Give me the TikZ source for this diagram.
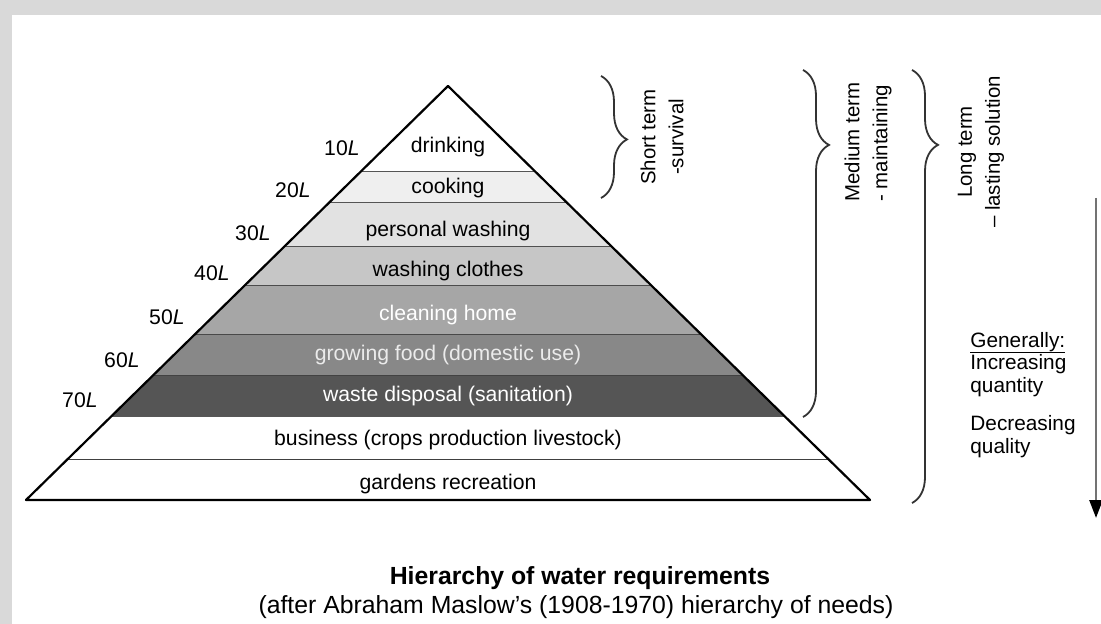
\documentclass[tikz,border=0pt]{standalone}
\usepackage{fontspec}
\setmainfont{Liberation Sans}
\usetikzlibrary{positioning, calc, arrows.meta, decorations.pathreplacing}

\definecolor{page}{HTML}{D9D9D9}
\definecolor{lev1}{HTML}{EFEFEF}
\definecolor{lev2}{HTML}{E2E2E2}
\definecolor{lev3}{HTML}{C6C6C6}
\definecolor{lev4}{HTML}{A6A6A6}
\definecolor{lev5}{HTML}{888888}
\definecolor{lev6}{HTML}{555555}

\begin{document}
\begin{tikzpicture}[x=0.5pt, y=-0.5pt,
    lvl/.style={font=\fontsize{10.6}{12}\selectfont, inner sep=1pt},
    amt/.style={font=\fontsize{10.6}{12}\selectfont, anchor=east, inner sep=1pt},
    sep line/.style={draw=black!75, line width=1pt},
    term/.style={rotate=90, font=\fontsize{10.2}{14}\selectfont, inner sep=0pt},
    curly/.style={decorate, decoration={brace, amplitude=13pt, aspect=#1}, line width=0.9pt, draw=black!80}
  ]

  % frame of the scan
  \fill[page] (0,0) rectangle (1101,624);
  \fill[white] (12,15) rectangle (1101,624);
  \useasboundingbox (0,0) rectangle (1101,624);

  \coordinate (apex) at (448,86);
  \coordinate (bl) at (26,500);
  \coordinate (br) at (870,500);

  \foreach \ya/\yb/\shade/\ty/\txt/\tc [count=\i] in {
      86/172/white/147/drinking/black,
      172/203/lev1/188/cooking/black,
      203/247/lev2/231/personal washing/black,
      247/286/lev3/271/washing clothes/black,
      286/335/lev4/315/cleaning home/white,
      335/376/lev5/355/growing food (domestic use)/white!92!black,
      376/417/lev6/396/waste disposal (sanitation)/white,
      417/460/white/440/business (crops production livestock)/black,
      460/500/white/484/gardens recreation/black} {
    \pgfmathsetmacro\ta{(\ya-86)/414}
    \pgfmathsetmacro\tb{(\yb-86)/414}
    \fill[\shade] ($(apex)!\ta!(bl)$) -- ($(apex)!\tb!(bl)$) -- ($(apex)!\tb!(br)$) -- ($(apex)!\ta!(br)$) -- cycle;
    \draw[sep line] ($(apex)!\tb!(bl)$) -- ($(apex)!\tb!(br)$);
    \node[lvl, text=\tc] (band\i) at (448,\ty) {\txt};
  }
  \draw[line width=1.1pt, line join=round] (bl) -- (apex) -- (br) -- cycle;

  \foreach \v/\x/\y in {10/362/148, 20/313/190, 30/273/233, 40/232/273, 50/187/317, 60/142/360, 70/100/400}
    \node[amt] (amt\v) at (\x,\y) {\v\textit{L}};

  % braces on the right
  \coordinate (short-a) at (601,76);
  \coordinate (short-b) at (601,198);
  \coordinate (mid-a) at (803,70);
  \coordinate (mid-b) at (803,417);
  \coordinate (long-a) at (912,70);
  \coordinate (long-b) at (912,503);
  \draw[curly=0.52] (short-a) -- (short-b);
  \draw[curly=0.216] (mid-a) -- (mid-b);
  \draw[curly=0.173] (long-a) -- (long-b);

  \node[term, align=center] (short) at (662,137) {Short term\\-survival};
  \node[term, align=left, anchor=west] (medium) at (868,202) {Medium term\\- maintaining};
  \node[term, align=center] (long) at (981,152) {Long term\\– lasting solution};

  \coordinate (down-a) at (1096,198);
  \coordinate (down-b) at (1096,518);
  \draw[draw=black!55, line width=1.3pt, -{Triangle[length=9pt, width=6.5pt, color=black]}] (down-a) -- (down-b);

  \node[anchor=north west, align=left, inner sep=0pt, font=\fontsize{10.4}{11.25}\selectfont] (trend) at (970,332)
    {\underline{\raisebox{0pt}[\height][1.2pt]{Generally:}}\\Increasing\\quantity\\[8pt]Decreasing\\quality};

  \node[font=\bfseries\fontsize{12.4}{14}\selectfont] (title) at (580,578) {Hierarchy of water requirements};
  \node[font=\fontsize{12.4}{14}\selectfont] (sub) at (576,607) {(after Abraham Maslow's (1908-1970) hierarchy of needs)};

  %\node[below=2pt of title] {};

\end{tikzpicture}
\end{document}
